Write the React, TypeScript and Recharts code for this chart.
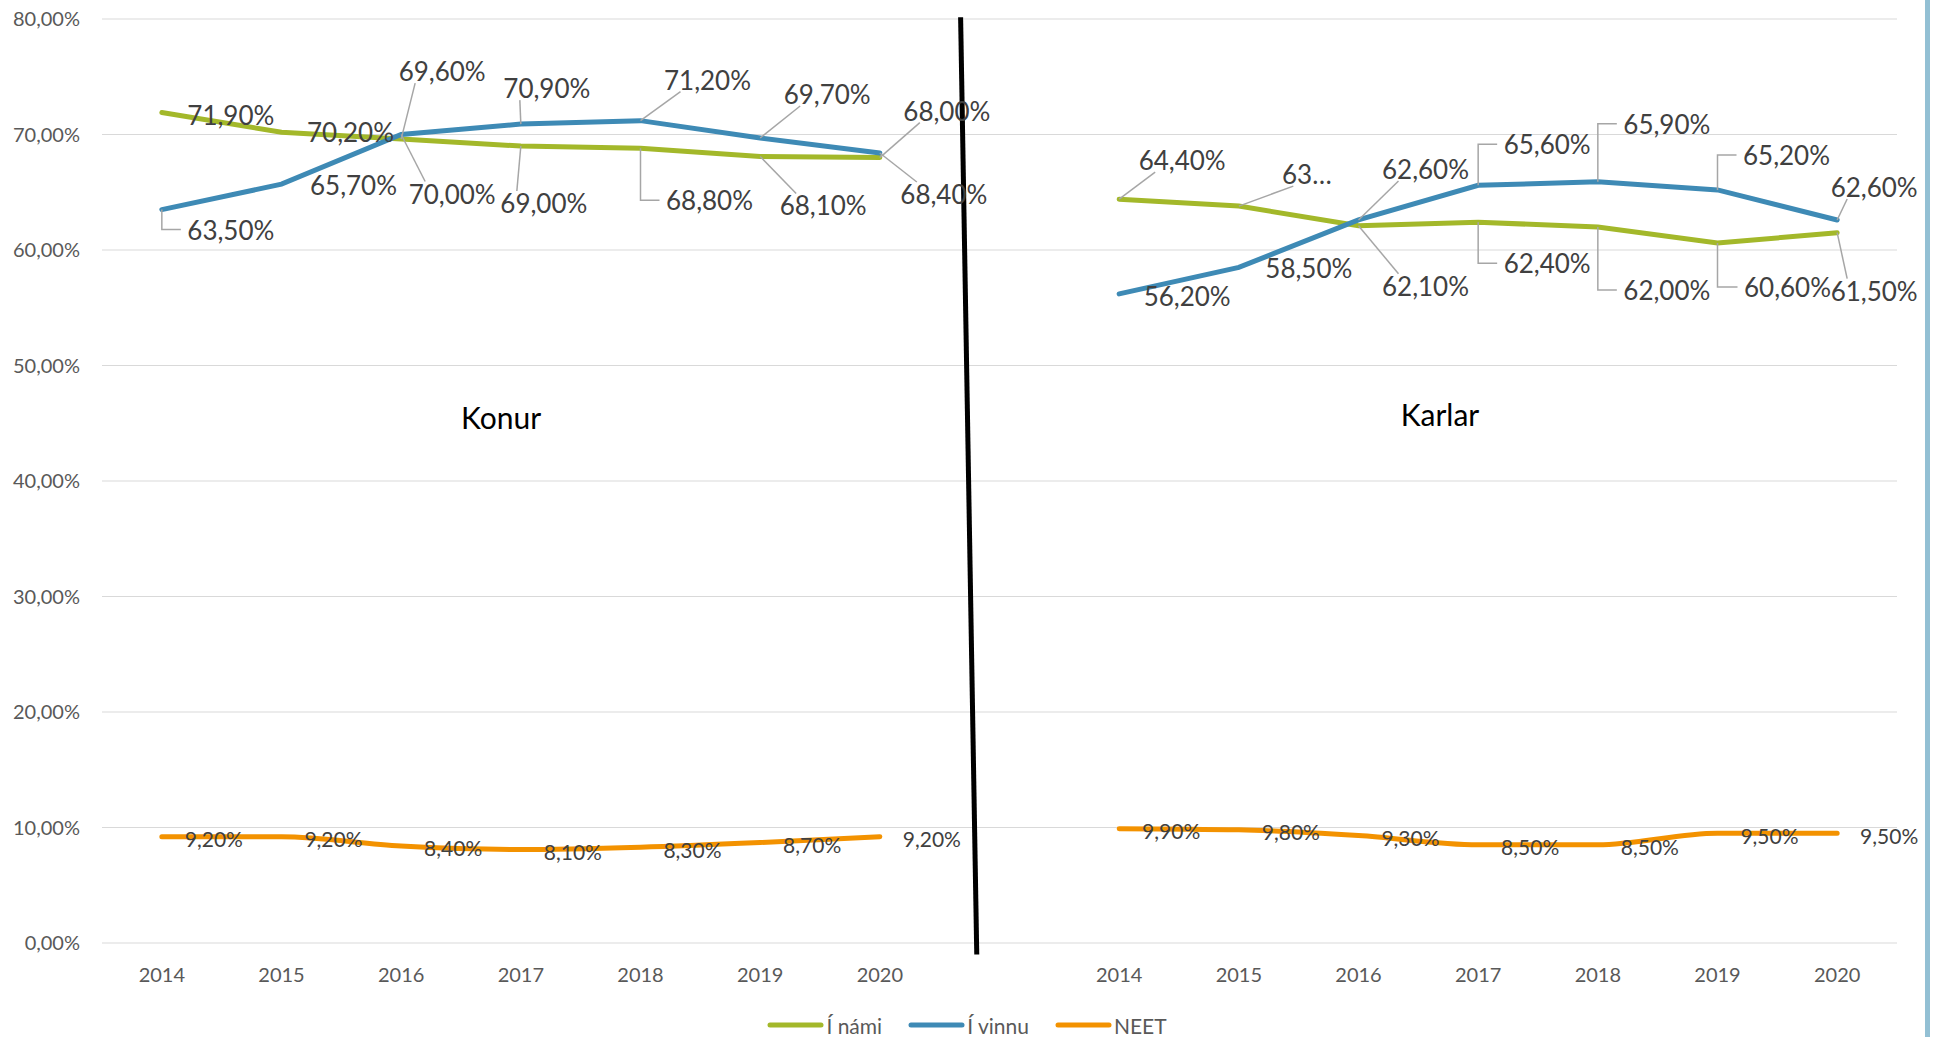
import { CartesianGrid, Legend, Line, LineChart, ReferenceLine, XAxis, YAxis } from "recharts";

const years = ["2014", "2015", "2016", "2017", "2018", "2019", "2020"];

const konurNami = [71.9, 70.2, 69.6, 69.0, 68.8, 68.1, 68.0];
const konurVinnu = [63.5, 65.7, 70.0, 70.9, 71.2, 69.7, 68.4];
const konurNeet = [9.2, 9.2, 8.4, 8.1, 8.3, 8.7, 9.2];

const karlarNami = [64.4, 63.8, 62.1, 62.4, 62.0, 60.6, 61.5];
const karlarVinnu = [56.2, 58.5, 62.6, 65.6, 65.9, 65.2, 62.6];
const karlarNeet = [9.9, 9.8, 9.3, 8.5, 8.5, 9.5, 9.5];

const yTicks = [0, 10, 20, 30, 40, 50, 60, 70, 80];

// 7 Konur years, one empty slot, 7 Karlar years
const rows = [
  ...years.map((y, k) => ({ i: k, year: y, nami: konurNami[k], vinnu: konurVinnu[k], neet: konurNeet[k] })),
  { i: 7, year: "", nami: null, vinnu: null, neet: null },
  ...years.map((y, k) => ({ i: k + 8, year: y, nami: karlarNami[k], vinnu: karlarVinnu[k], neet: karlarNeet[k] })),
];
const xTicks = rows.filter((r) => r.year).map((r) => r.i);

const GREEN = "#a3b82a";
const BLUE = "#3e8ab5";
const ORANGE = "#f39200";
const LABEL = "#404040";
const LEADER = "#a6a6a6";

type Off = [number, number, "none" | "line" | "elbow"] | null;

// label placement (px offsets from the point), copied from the Excel layout
const namiOff: Off[] = [
  [69, 2, "none"], [69, 0, "none"], [41, -68, "line"], [23, 57, "line"], [69, 52, "elbow"], [63, 49, "line"], [67, -47, "line"],
  null,
  [63, -39, "line"], [68, -32, "line"], [67, 60, "line"], [69, 41, "elbow"], [69, 63, "elbow"], [70, 44, "elbow"], [37, 58, "line"],
];
const vinnuOff: Off[] = [
  [69, 20, "elbow"], [72, 1, "none"], [51, 59, "line"], [26, -36, "line"], [67, -41, "line"], [67, -44, "line"], [64, 41, "line"],
  null,
  [68, 2, "none"], [70, 1, "none"], [67, -51, "line"], [69, -41, "elbow"], [69, -58, "elbow"], [69, -35, "elbow"], [37, -33, "line"],
];
const namiText: Record<number, string> = { 9: "63…" };

const pct = (v: number) => v.toFixed(2).replace(".", ",") + "%";

function bigLabel(offsets: Off[], overrides: Record<number, string> = {}) {
  return (props: any) => {
    const { x, y, value, index } = props;
    if (value == null || x == null || y == null) return null;
    const o = offsets[index];
    if (!o) return null;
    const [dx, dy, kind] = o;
    const cx = x + dx;
    const cy = y + dy;
    const text = overrides[index] ?? pct(value);
    const w = text.length * 15;
    const h = 24;
    let leader = null;
    if (kind === "line") {
      const ex = cx - w * 0.3;
      const ey = dy > 0 ? cy - h / 2 : cy + h / 2;
      leader = <line x1={x} y1={y} x2={ex} y2={ey} stroke={LEADER} strokeWidth={1.5} />;
    } else if (kind === "elbow") {
      leader = (
        <polyline points={`${x},${y} ${x},${cy} ${cx - w / 2 - 5},${cy}`} fill="none" stroke={LEADER} strokeWidth={1.5} />
      );
    }
    return (
      <g key={`l-${index}`}>
        {leader}
        <text x={cx} y={cy} textAnchor="middle" dominantBaseline="central" fill={LABEL} fontSize={26} fontFamily="Lato">
          {text}
        </text>
      </g>
    );
  };
}

function neetLabel(props: any) {
  const { x, y, value, index } = props;
  if (value == null || x == null || y == null) return null;
  return (
    <text key={`n-${index}`} x={x + 52} y={y + 2} textAnchor="middle" dominantBaseline="central" fill={LABEL} fontSize={21} fontFamily="Lato">
      {pct(value)}
    </text>
  );
}

const legendItems = [
  { name: "Í námi", color: GREEN },
  { name: "Í vinnu", color: BLUE },
  { name: "NEET", color: ORANGE },
];

function renderLegend() {
  return (
    <div style={{ display: "flex", justifyContent: "center", alignItems: "center", height: 24, fontFamily: "Lato" }}>
      {legendItems.map((it) => (
        <div key={it.name} style={{ display: "flex", alignItems: "center", margin: "0 13px" }}>
          <svg width={57} height={8}>
            <line x1={3} y1={4} x2={54} y2={4} stroke={it.color} strokeWidth={5} strokeLinecap="round" />
          </svg>
          <span style={{ fontSize: 21, color: "#595959", marginLeft: 2 }}>{it.name}</span>
        </div>
      ))}
    </div>
  );
}

export default function App() {
  return (
    <div style={{ position: "absolute", left: 0, top: 0, width: 1934, height: 1037, background: "#fff", overflow: "hidden" }}>
      <LineChart
        width={1934}
        height={1037}
        data={rows}
        margin={{ top: 19, right: 37, bottom: 0, left: 0 }}
        style={{ fontFamily: "Lato" }}
      >
        <CartesianGrid vertical={false} stroke="#d9d9d9" strokeWidth={1.2} />
        <XAxis
          dataKey="i"
          type="number"
          domain={[-0.5, 14.5]}
          ticks={xTicks}
          interval={0}
          tickFormatter={(v) => rows[v]?.year ?? ""}
          axisLine={false}
          tickLine={false}
          height={70}
          tickMargin={19}
          tick={{ fill: "#595959", fontSize: 20, fontFamily: "Lato" }}
        />
        <YAxis
          domain={[0, 80]}
          ticks={yTicks}
          width={102}
          axisLine={false}
          tickLine={false}
          tickMargin={16}
          tickFormatter={pct}
          tick={{ fill: "#595959", fontSize: 20, fontFamily: "Lato" }}
        />
        <ReferenceLine
          segment={[
            { x: 6.675, y: 80.15 },
            { x: 6.81, y: -1.0 },
          ]}
          stroke="#000"
          strokeWidth={5}
          ifOverflow="visible"
        />
        <Line
          dataKey="nami"
          name="Í námi"
          type="linear"
          stroke={GREEN}
          strokeWidth={5}
          strokeLinecap="round"
          dot={false}
          activeDot={false}
          isAnimationActive={false}
          label={bigLabel(namiOff, namiText)}
        />
        <Line
          dataKey="vinnu"
          name="Í vinnu"
          type="linear"
          stroke={BLUE}
          strokeWidth={5}
          strokeLinecap="round"
          dot={false}
          activeDot={false}
          isAnimationActive={false}
          label={bigLabel(vinnuOff)}
        />
        <Line
          dataKey="neet"
          name="NEET"
          type="monotone"
          stroke={ORANGE}
          strokeWidth={5}
          strokeLinecap="round"
          dot={false}
          activeDot={false}
          isAnimationActive={false}
          label={neetLabel}
        />
        <Legend
          verticalAlign="bottom"
          content={renderLegend}
          wrapperStyle={{ left: 0, width: 1934, height: 24 }}
        />
      </LineChart>
      <div style={{ position: "absolute", left: 501, top: 417, transform: "translate(-50%, -50%)", fontFamily: "Lato", fontSize: 30, color: "#000" }}>
        Konur
      </div>
      <div style={{ position: "absolute", left: 1440, top: 414, transform: "translate(-50%, -50%)", fontFamily: "Lato", fontSize: 30, color: "#000" }}>
        Karlar
      </div>
      <div style={{ position: "absolute", left: 1925, top: 0, width: 5, height: 1037, background: "#93c0d4" }} />
    </div>
  );
}
